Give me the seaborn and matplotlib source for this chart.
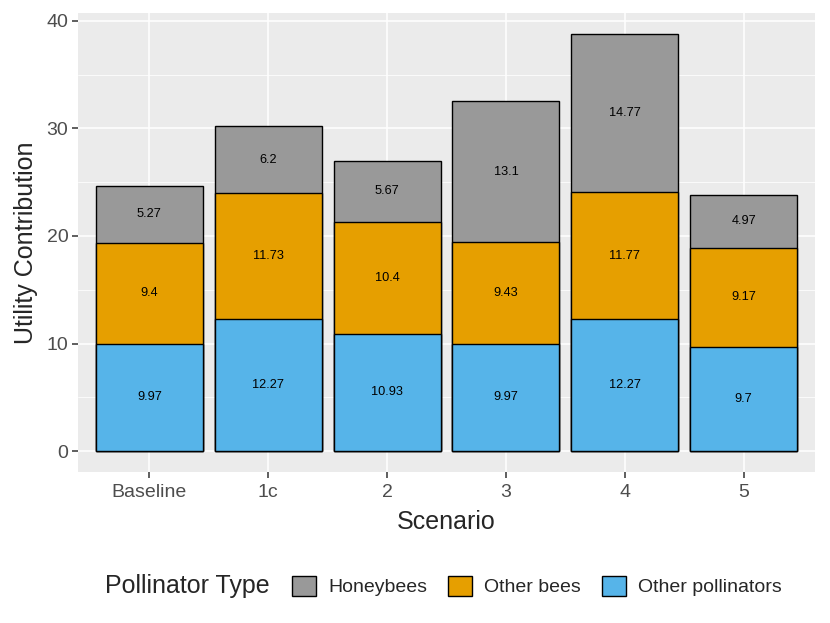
import numpy as np
import pandas as pd
import matplotlib
matplotlib.use("Agg")
import matplotlib.pyplot as plt
import seaborn as sns
from matplotlib.patches import Patch
from matplotlib.ticker import MultipleLocator

scenarios = ["Baseline", "1c", "2", "3", "4", "5"]
other_pollinators = [9.97, 12.27, 10.93, 9.97, 12.27, 9.7]
other_bees = [9.4, 11.73, 10.4, 9.43, 11.77, 9.17]
honeybees = [5.27, 6.2, 5.67, 13.1, 14.77, 4.97]

types = ["Honeybees", "Other bees", "Other pollinators"]
colors = {"Honeybees": "#999999", "Other bees": "#E69F00", "Other pollinators": "#56B4E9"}

sns.set_style("darkgrid", {"axes.facecolor": "#EBEBEB", "grid.color": "white"})
plt.rcParams["font.family"] = ["Liberation Sans", "DejaVu Sans"]

df = pd.DataFrame({"Scenario": scenarios,
                   "Other pollinators": other_pollinators,
                   "Other bees": other_bees,
                   "Honeybees": honeybees})
df["top_bees"] = df["Other pollinators"] + df["Other bees"]
df["total"] = df["top_bees"] + df["Honeybees"]

fig = plt.figure(figsize=(8.3, 6.23), dpi=100)
ax = fig.add_axes([0.094, 0.2424, 0.888, 0.7372])

# stacked bars drawn as cumulative totals, largest first
for col, key in [("total", "Honeybees"), ("top_bees", "Other bees"), ("Other pollinators", "Other pollinators")]:
    sns.barplot(data=df, x="Scenario", y=col, order=scenarios, color=colors[key],
                saturation=1, width=0.9, edgecolor="black", linewidth=1.0, ax=ax, zorder=3)

for i in range(len(scenarios)):
    base = 0.0
    for key in ["Other pollinators", "Other bees", "Honeybees"]:
        v = df[key][i]
        ax.text(i, base + v / 2, f"{v:g}", ha="center", va="center", fontsize=9.2, color="black", zorder=4)
        base += v

ax.set_xlim(-0.6, 5.6)
ax.set_ylim(-1.94, 40.75)
ax.yaxis.set_major_locator(MultipleLocator(10))
ax.yaxis.set_minor_locator(MultipleLocator(5))
ax.grid(which="major", color="white", linewidth=1.1, zorder=0)
ax.grid(which="minor", axis="y", color="white", linewidth=0.55, zorder=0)
ax.set_axisbelow(True)
for s in ax.spines.values():
    s.set_visible(False)
ax.tick_params(axis="both", which="major", length=4, width=1.1, color="#333333",
               labelcolor="#4D4D4D", labelsize=14, pad=3, bottom=True, left=True)
ax.tick_params(axis="x", which="major", pad=5)
ax.tick_params(axis="both", which="minor", length=0)
ax.set_xlabel("Scenario", fontsize=18, labelpad=6)
ax.set_ylabel("Utility Contribution", fontsize=18, labelpad=6)

handles = [Patch(facecolor=colors[t], edgecolor="black", linewidth=1.0) for t in types]
fig.text(0.127, 0.0594, "Pollinator Type", fontsize=18, va="center", ha="left")
fig.legend(handles, types, loc="center left", bbox_to_anchor=(0.352, 0.0594), ncol=3,
           frameon=False, fontsize=14, handlelength=1.24, handleheight=1.24,
           handletextpad=0.6, columnspacing=1.1, borderaxespad=0, borderpad=0)

fig.savefig("out.png", dpi=100)
